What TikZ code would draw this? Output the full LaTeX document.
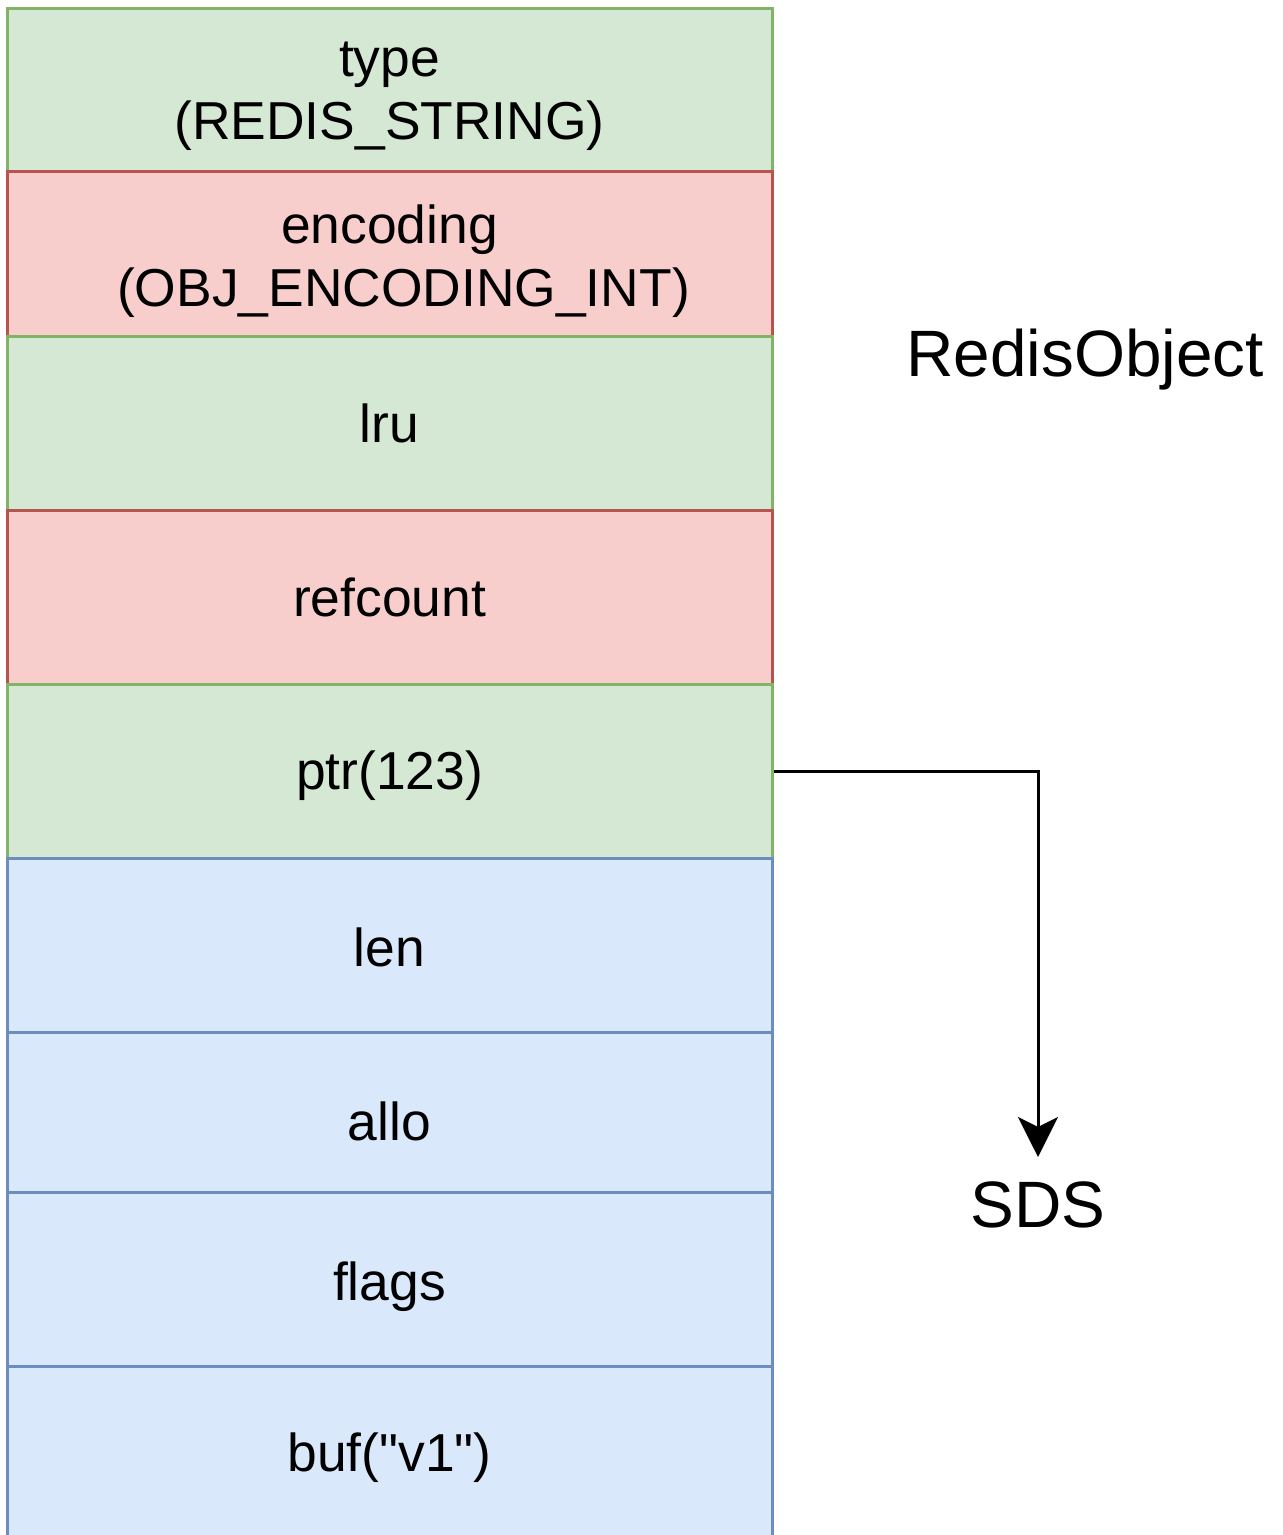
\documentclass[tikz,border=0pt]{standalone}
\usepackage{fontspec}
\setmainfont{Liberation Sans}[Ligatures=TeXOff]
\usetikzlibrary{arrows.meta}
\definecolor{gfill}{HTML}{D5E8D4}
\definecolor{gline}{HTML}{82B366}
\definecolor{rfill}{HTML}{F8CECC}
\definecolor{rline}{HTML}{B85450}
\definecolor{bfill}{HTML}{DAE8FC}
\definecolor{bline}{HTML}{6C8EBF}
% lower a label inside its field while keeping its reported size
\newcommand{\shiftdown}[2]{\raisebox{-#1}[\height][\depth]{#2}}
\tikzset{
  field/.style={rectangle, minimum width=382.5pt, inner sep=0pt, line width=1.5pt,
    align=center, font=\fontsize{26.7}{31.5}\selectfont},
  greenfield/.style={field, fill=gfill, draw=gline},
  redfield/.style={field, fill=rfill, draw=rline},
  bluefield/.style={field, fill=bfill, draw=bline},
  caption/.style={inner sep=0pt, font=\fontsize{32.8}{38}\selectfont},
  pointer/.style={line width=1.5pt, -{Stealth[length=20pt, width=20pt, inset=5pt]}}
}
\begin{document}
\begin{tikzpicture}[x=0.5pt, y=-0.5pt]
\useasboundingbox (0,0) rectangle (1282,1535);
\begin{scope}
\clip (0,0) rectangle (1282,1535);
% RedisObject header fields
\node[greenfield, minimum height=81.5pt] (type) at (389.5,90.5)
  {\shiftdown{2.5pt}{\begin{tabular}{@{}c@{}}type\\(REDIS\_STRING)\end{tabular}}};
\node[redfield, minimum height=82.5pt] (encoding) at (389.5,254.5)
  {\shiftdown{4pt}{\begin{tabular}{@{}c@{}}encoding\\\hspace*{14pt}(OBJ\_ENCODING\_INT)\end{tabular}}};
\node[greenfield, minimum height=86.5pt] (lru) at (389.5,423.5) {lru};
\node[redfield, minimum height=87pt] (refcount) at (389.5,597) {refcount};
\node[greenfield, minimum height=87pt] (ptr) at (389.5,771) {\shiftdown{2.5pt}{ptr(123)}};
% SDS fields
\node[bluefield, minimum height=87pt] (len) at (389.5,945) {\shiftdown{1pt}{len}};
\node[bluefield, minimum height=80pt] (allo) at (389.5,1112) {\shiftdown{4.5pt}{allo}};
\node[bluefield, minimum height=87pt] (flags) at (389.5,1279) {\shiftdown{4pt}{flags}};
\node[bluefield, minimum height=89.5pt] (buf) at (389.5,1455.5) {};
\node[field, draw=none, fill=none] (buftext) at (389.5,1458) {buf("v1")};
\end{scope}
% labels
\node[caption] (redisobj) at (1085,360) {RedisObject};
\node[caption] (sds) at (1038,1205) {SDS};
\coordinate (sdstop) at (1038,1157);
% pointer from ptr to the SDS
\draw[pointer] (ptr.east) -| (sdstop);
\end{tikzpicture}
\end{document}
